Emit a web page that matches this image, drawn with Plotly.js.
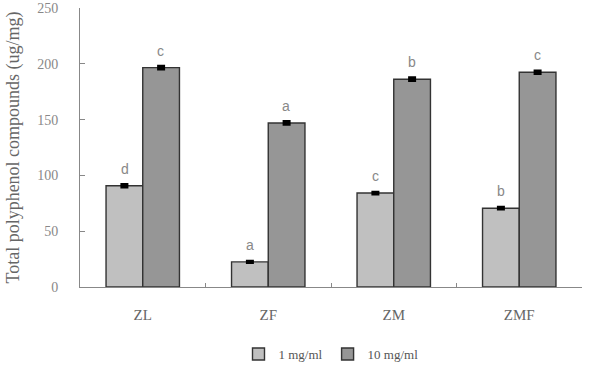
<!DOCTYPE html>
<html>
<head>
<meta charset="utf-8">
<script src="https://cdn.plot.ly/plotly-3.0.1.min.js"></script>
<style>html,body{margin:0;padding:0;background:#fff;}#chart{width:593px;height:369px;}</style>
</head>
<body>
<div id="chart"></div>
<script>
var categories = ["ZL", "ZF", "ZM", "ZMF"];
var series1Name = "1 mg/ml";
var series2Name = "10 mg/ml";
var values1 = [90.7, 22.5, 84.2, 70.6];
var values2 = [196.6, 147.0, 186.2, 192.4];
var errors1 = [1.2, 0.5, 0.8, 0.8];
var errors2 = [1.2, 1.2, 1.2, 1.2];
var letters1 = ["d", "a", "c", "b"];
var letters2 = ["c", "a", "b", "c"];
var yTicks = [0, 50, 100, 150, 200, 250];

var serif = "Liberation Serif, Times New Roman, serif";
var sans = "Liberation Sans, Arial, sans-serif";

var t1 = {
  type: "bar", name: series1Name, x: categories, y: values1,
  marker: {color: "#c0c0c0", line: {color: "#333", width: 1.4}},
  error_y: {type: "data", array: errors1, visible: true, color: "#000", thickness: 3, width: 4}
};
var t2 = {
  type: "bar", name: series2Name, x: categories, y: values2,
  marker: {color: "#969696", line: {color: "#333", width: 1.4}},
  error_y: {type: "data", array: errors2, visible: true, color: "#000", thickness: 3, width: 4}
};

var annotations = [];
categories.forEach(function(c, i){
  annotations.push({x: c, y: values1[i], text: letters1[i], showarrow: false, xshift: -18, yanchor: "bottom", yshift: 7, font: {family: sans, size: 14, color: "#888"}});
  annotations.push({x: c, y: values2[i], text: letters2[i], showarrow: false, xshift: 18, yanchor: "bottom", yshift: 7, font: {family: sans, size: 14, color: "#888"}});
});

var layout = {
  width: 593, height: 369,
  margin: {l: 80, r: 11, t: 8, b: 82},
  paper_bgcolor: "#fff", plot_bgcolor: "#fff",
  barmode: "group", bargap: 0.415, bargroupgap: 0,
  showlegend: true,
  legend: {orientation: "h", x: 0.5, xanchor: "center", yref: "container", y: 0, yanchor: "bottom", font: {family: serif, size: 13, color: "#555"}, itemwidth: 30, traceorder: "normal"},
  xaxis: {
    automargin: false,
    showline: true, linecolor: "#888", linewidth: 1,
    ticks: "inside", tickson: "boundaries", ticklen: 4, tickcolor: "#888",
    tickfont: {family: serif, size: 15, color: "#666"},
    ticklabelstandoff: 14,
    showgrid: false, zeroline: false, fixedrange: true
  },
  yaxis: {
    automargin: false,
    range: [0, 250], tickvals: yTicks, ticktext: yTicks.map(String),
    showline: true, linecolor: "#888", linewidth: 1,
    ticks: "inside", ticklen: 5, tickcolor: "#888",
    tickfont: {family: serif, size: 14, color: "#888"},
    ticklabelstandoff: 18, ticklabeloverflow: "allow",
    showgrid: false, zeroline: false,
    title: {text: "Total polyphenol compounds (ug/mg)", font: {family: serif, size: 18, color: "#666"}, standoff: 12}
  },
  annotations: annotations
};

Plotly.newPlot("chart", [t1, t2], layout, {staticPlot: true});
</script>
</body>
</html>
